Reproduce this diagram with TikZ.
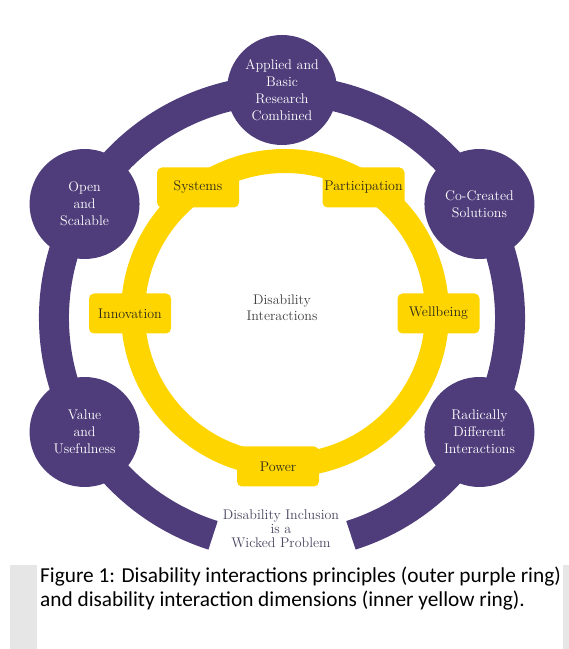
\documentclass[tikz,border=0pt]{standalone}
\usepackage{fontspec}
\newfontfamily\capfont{Carlito}
\definecolor{ringpurple}{HTML}{4F3D7B}
\definecolor{ringyellow}{HTML}{FFD500}
\definecolor{boxtext}{HTML}{2B2A1A}
\definecolor{captiongray}{HTML}{E6E6E6}
\definecolor{wickedtext}{HTML}{4A4560}
\begin{document}
\begin{tikzpicture}[x=1pt,y=1pt,
  principle/.style={circle, fill=ringpurple, minimum size=110pt, inner sep=0pt,
    text=white, align=center, font=\fontsize{14}{17}\selectfont},
  dimension/.style={rectangle, rounded corners=5pt, fill=ringyellow,
    minimum width=82pt, minimum height=40pt, inner sep=1pt, text=boxtext,
    font=\fontsize{14}{17}\selectfont},
  centrelabel/.style={text=black!75, align=center, font=\fontsize{14}{16}\selectfont},
  wickedlabel/.style={text=wickedtext, align=center, font=\fontsize{14}{14}\selectfont},
  captionlabel/.style={anchor=base west, align=left, inner sep=0pt,
    font=\capfont\fontsize{21.3}{25}\selectfont}
]
\useasboundingbox (0,0) rectangle (569,649);
\fill[white] (0,0) rectangle (569,649);
% caption frame
\fill[captiongray] (10,0) rectangle (569,84);
\fill[white] (37,0) rectangle (563,84);
% outer purple ring
\coordinate (pc) at (282,331);
\draw[ringpurple, line width=30pt] ([shift={(-72.4:228)}]pc) arc[start angle=-72.4, end angle=252.4, radius=228];
\node[principle] (applied) at ([shift={(90:228)}]pc) {Applied and\\Basic\\Research\\Combined};
\node[principle] (open) at ([shift={(150:228)}]pc) {Open\\and\\Scalable};
\node[principle] (cocreated) at ([shift={(30:228)}]pc) {Co-Created\\Solutions};
\node[principle] (value) at ([shift={(210:228)}]pc) {Value\\and\\Usefulness};
\node[principle] (radical) at ([shift={(330:228)}]pc) {Radically\\Different\\Interactions};
% inner yellow ring
\coordinate (yc) at (285,336);
\draw[ringyellow, line width=24pt] (yc) circle[radius=152];
\node[dimension] (systems) at (198,461.5) {Systems};
\node[dimension] (participation) at (363.5,461.5) {Participation};
\node[dimension] (innovation) at (130,335.5) {Innovation};
\node[dimension] (wellbeing) at (438.5,335.5) {Wellbeing};
\node[dimension] (power) at (278,182.5) {Power};
% labels
\node[centrelabel] (di) at (282,341) {Disability\\Interactions};
\node[wickedlabel] (wicked) at (281,120) {Disability Inclusion\\is a\\Wicked Problem};
\node[captionlabel] (cap) at (40,42) {Figure 1: Disability interactions principles (outer purple ring)\\and disability interaction dimensions (inner yellow ring).};
\end{tikzpicture}
\end{document}
